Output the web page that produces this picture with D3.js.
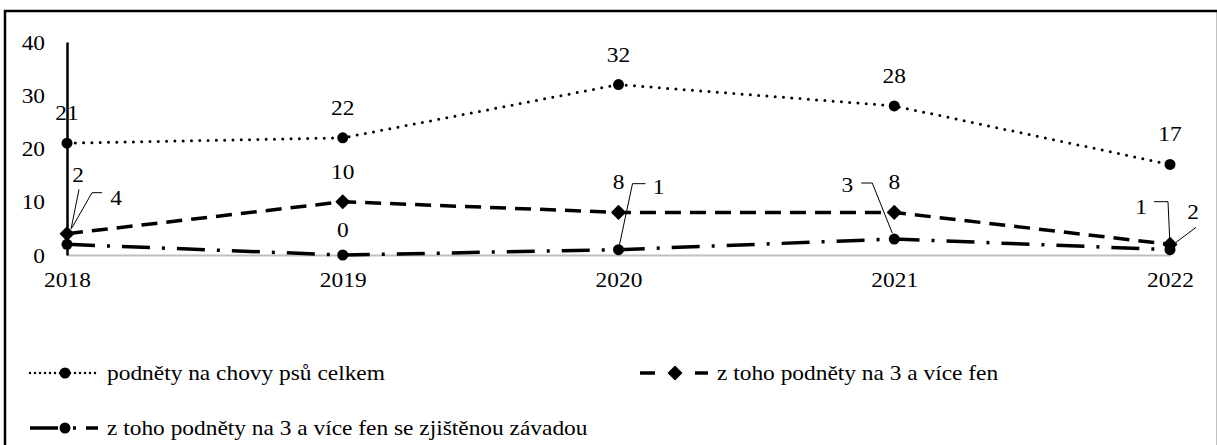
<!DOCTYPE html>
<html>
<head>
<meta charset="utf-8">
<script src="https://cdn.jsdelivr.net/npm/d3@7"></script>
<style>
  body { margin: 0; background: #fff; }
  svg { display: block; }
  svg text { font-family: "Liberation Serif", "Tinos", "DejaVu Serif", serif !important; fill: #000; }
</style>
</head>
<body>
<svg id="chart" width="1217" height="445"></svg>
<script>
// Years on the category axis and the value-axis ticks
const years = ["2018", "2019", "2020", "2021", "2022"];
const yTicks = [0, 10, 20, 30, 40];

// Counts per year
const celkem = [21, 22, 32, 28, 17];        // podněty na chovy psů celkem
const fen3 = [4, 10, 8, 8, 2];               // z toho podněty na 3 a více fen
const fen3Zavada = [2, 0, 1, 3, 1];          // ... se zjištěnou závadou

const seriesNames = [
  "podněty na chovy psů celkem",
  "z toho podněty na 3 a více fen",
  "z toho podněty na 3 a více fen se zjištěnou závadou"
];

// ---- layout -------------------------------------------------------------
const svg = d3.select("#chart");
const x = d3.scalePoint().domain(years).range([67, 1170]);
const y = d3.scaleLinear().domain([0, 40]).range([255, 42]);
const numFont = 20;
const legendFont = 20;
const stretch = 1.17;   // text is drawn slightly widened
const FONT = '"Liberation Serif", "Tinos", "DejaVu Serif", serif';

// Line styles of the three series
const styles = [
  { dash: "0,8.3", width: 3, cap: "round", marker: "circle", r: 5.5 },
  { dash: "16,9", width: 3.5, cap: "butt", marker: "diamond", r: 6.5 },
  { dash: "28,12,3,12", width: 3.5, cap: "butt", marker: "circle", r: 5.5 }
];

// Data-label placement: null = centred above the point,
// otherwise an offset from the point plus an optional leader polyline.
const above = null;
const labelPlacement = [
  [above, above, above, above, above],
  [
    { dx: 49, dy: -36, leader: [[35, -41], [25, -41], [5, -6]] },
    above, above, above,
    { dx: 23, dy: -32, leader: [[26, -17], [6, -2]] }
  ],
  [
    { dx: 11, dy: -69, leader: [[12, -55], [4, -15]] },
    { dx: 0, dy: -25 },
    { dx: 40, dy: -63, leader: [[27, -66], [14, -66], [1, -5]] },
    { dx: -47, dy: -54, leader: [[-33, -56], [-22, -56], [-2, -6]] },
    { dx: -29, dy: -43, leader: [[-16, -48], [-2, -48], [0, -4]] }
  ]
];

const allSeries = [celkem, fen3, fen3Zavada];

// Outer frame
svg.append("rect")
  .attr("x", 5).attr("y", 11)
  .attr("width", 1213).attr("height", 450)
  .attr("fill", "none").attr("stroke", "#000").attr("stroke-width", 2.5);

// Category axis (light grey baseline)
const xAxis = d3.axisBottom(x).tickSize(0).tickPadding(18);
const gx = svg.append("g").attr("transform", `translate(0,${y(0)})`).call(xAxis);
gx.attr("font-family", FONT);
gx.select(".domain").attr("stroke", "#bfbfbf").attr("stroke-width", 2);
gx.selectAll(".tick text").attr("font-size", numFont)
  .attr("transform", `scale(${stretch},1)`);

// Value axis (black line, no tick marks)
const yAxis = d3.axisLeft(y).tickValues(yTicks).tickSize(0).tickPadding(22);
const gy = svg.append("g").attr("transform", `translate(${x(years[0])},0)`).call(yAxis);
gy.attr("font-family", FONT);
gy.select(".domain").attr("stroke", "#000").attr("stroke-width", 2.5);
gy.selectAll(".tick text").attr("font-size", numFont).attr("dy", "0.35em")
  .attr("x", -22 / stretch)
  .attr("transform", `scale(${stretch},1)`);

const line = d3.line().x((d, i) => x(years[i])).y(d => y(d));

function drawMarker(g, st, cx, cy) {
  if (st.marker === "circle") {
    g.append("circle").attr("cx", cx).attr("cy", cy).attr("r", st.r).attr("fill", "#000");
  } else {
    const h = st.r;
    g.append("path")
      .attr("d", `M${cx},${cy - h}L${cx + h},${cy}L${cx},${cy + h}L${cx - h},${cy}Z`)
      .attr("fill", "#000").attr("stroke", "#000")
      .attr("stroke-width", 1.5).attr("stroke-linejoin", "round");
  }
}

function addText(g, tx, ty, str, size, anchor) {
  return g.append("text")
    .attr("transform", `translate(${tx},${ty}) scale(${stretch},1)`)
    .attr("dy", "0.35em")
    .attr("text-anchor", anchor)
    .attr("font-size", size)
    .text(str);
}

// Series lines and markers
allSeries.forEach((vals, s) => {
  const st = styles[s];
  const g = svg.append("g");
  g.append("path")
    .attr("d", line(vals))
    .attr("fill", "none").attr("stroke", "#000")
    .attr("stroke-width", st.width)
    .attr("stroke-dasharray", st.dash)
    .attr("stroke-linecap", st.cap);
  vals.forEach((v, i) => drawMarker(g, st, x(years[i]), y(v)));
});

// Data labels with leader lines
allSeries.forEach((vals, s) => {
  const g = svg.append("g");
  vals.forEach((v, i) => {
    const px = x(years[i]), py = y(v);
    const p = labelPlacement[s][i] || { dx: 0, dy: -30 };
    if (p.leader) {
      g.append("path")
        .attr("d", d3.line()(p.leader.map(([a, b]) => [px + a, py + b])))
        .attr("fill", "none").attr("stroke", "#000").attr("stroke-width", 1);
    }
    addText(g, px + p.dx, py + p.dy, v, numFont, "middle");
  });
});

// Legend
const legendItems = [
  { x: 28, y: 373 },
  { x: 638, y: 373 },
  { x: 28, y: 428 }
];
const symW = 70;
legendItems.forEach((it, s) => {
  const st = styles[s];
  const g = svg.append("g").attr("transform", `translate(${it.x},${it.y})`);
  const seg = (a, b) => g.append("line").attr("x1", a).attr("x2", b)
    .attr("y1", 0).attr("y2", 0).attr("stroke", "#000").attr("stroke-width", 3.5);
  if (s === 0) {
    g.append("line").attr("x1", 2).attr("x2", symW).attr("y1", 0).attr("y2", 0)
      .attr("stroke", "#000").attr("stroke-width", 2.5)
      .attr("stroke-dasharray", "0,5").attr("stroke-linecap", "round");
  } else if (s === 1) {
    seg(2, 17);
    seg(57, 70);
  } else {
    seg(2, 30);
    seg(45, 48);
    seg(58, 70);
  }
  drawMarker(g, st, symW / 2 + 2, 0);
  addText(g, symW + 9, 0, seriesNames[s], legendFont, "start");
});
</script>
</body>
</html>
